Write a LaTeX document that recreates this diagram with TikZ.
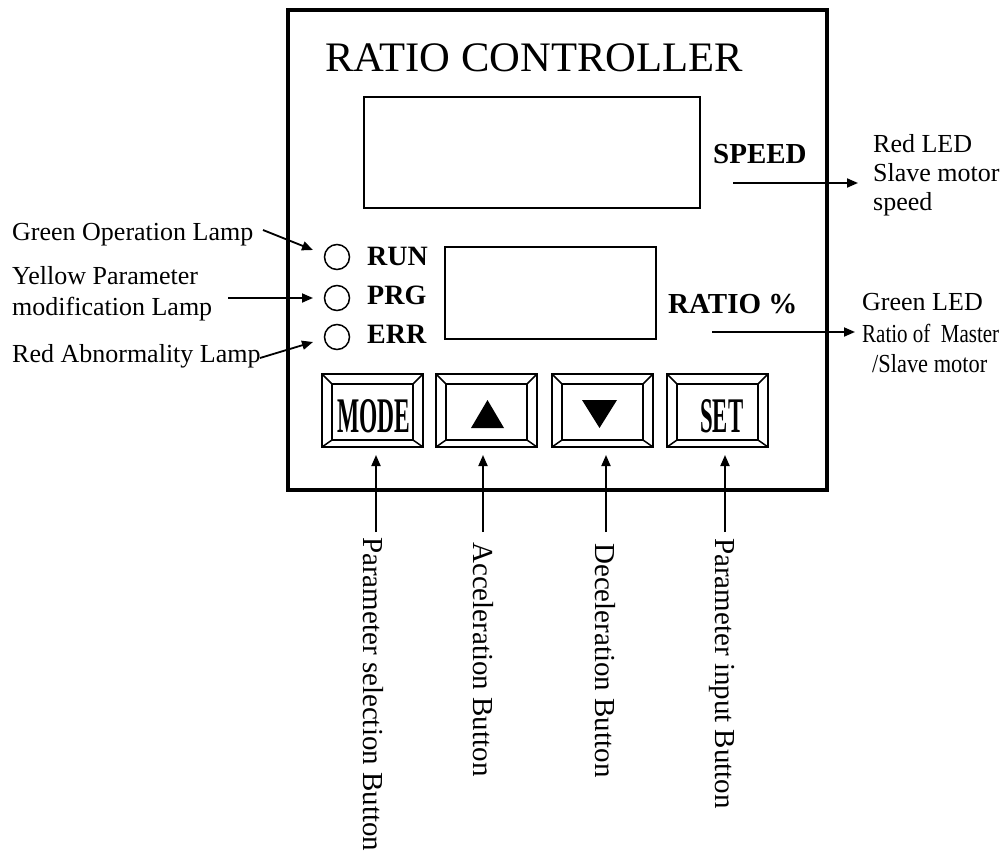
\documentclass[tikz,border=0pt]{standalone}
\usepackage{fontspec}
\setmainfont{Liberation Serif}
\usetikzlibrary{arrows.meta}
\begin{document}
\begin{tikzpicture}[x=1pt,y=-1pt,
  lbl/.style={inner sep=0pt, anchor=base west, font=\fontsize{26}{28}\selectfont},
  vlbl/.style={inner sep=0pt, anchor=base west, rotate=-90, font=\fontsize{29}{31}\selectfont},
  boldlbl/.style={inner sep=0pt, anchor=base west, font=\fontsize{29}{31}\selectfont\bfseries},
  arr/.style={line width=1.8pt, -{Triangle[length=11pt,width=9pt]}},
  lamp/.style={circle, draw, line width=1.5pt, minimum size=25pt, inner sep=0pt},
  disp/.style={draw, line width=2pt},
  btn/.style={line width=1.5pt},
]
\useasboundingbox (0,0) rectangle (1006,856);
% panel
\draw[line width=3.5pt] (288,10) rectangle (827,490);
\node[inner sep=0pt, anchor=base west] (title) at (325,72)
  {\resizebox{418pt}{\height}{\fontsize{42}{44}\selectfont RATIO CONTROLLER}};
% displays
\draw[disp] (364,97) rectangle (700,208);
\draw[disp] (445,247) rectangle (656,339);
\node[boldlbl] (speed) at (713,163) {SPEED};
\node[boldlbl] (ratio) at (668,313) {RATIO \%};
% lamps
\node[lamp] (run) at (337,257) {};
\node[lamp] (prg) at (337,298) {};
\node[lamp] (err) at (337,337) {};
\node[boldlbl, font=\fontsize{28}{30}\selectfont\bfseries] (runt) at (367,265) {RUN};
\node[boldlbl, font=\fontsize{28}{30}\selectfont\bfseries] (prgt) at (367,304) {PRG};
\node[boldlbl, font=\fontsize{28}{30}\selectfont\bfseries] (errt) at (367,343) {ERR};
% buttons
\foreach \L in {322,436,552,667} {
  \draw[btn] (\L,374) rectangle (\L+101,447);
  \draw[btn] (\L+10,384) rectangle (\L+91,440);
  \draw[btn] (\L,374) -- (\L+10,384);
  \draw[btn] (\L+101,374) -- (\L+91,384);
  \draw[btn] (\L,447) -- (\L+10,440);
  \draw[btn] (\L+101,447) -- (\L+91,440);
}
\node[inner sep=0pt, anchor=base west] (mode) at (337,432)
  {\resizebox{73pt}{33pt}{\bfseries MODE}};
\node[inner sep=0pt, anchor=base west] (set) at (700,432)
  {\resizebox{43pt}{33pt}{\bfseries SET}};
\fill (471,428) -- (487.5,400) -- (504,428) -- cycle;
\fill (582,400) -- (617,400) -- (599.5,428) -- cycle;
% left labels
\node[lbl] (gl) at (12,240) {Green Operation Lamp};
\node[lbl] (yl1) at (12,284) {Yellow Parameter};
\node[lbl] (yl2) at (12,315) {modification Lamp};
\node[lbl] (rl) at (12,362) {Red Abnormality Lamp};
\coordinate (gs) at (263,230); \coordinate (ge) at (313,250);
\coordinate (ys) at (228,298); \coordinate (ye) at (313,298);
\coordinate (rs) at (260,358); \coordinate (re) at (313,342);
\draw[arr] (gs) -- (ge);
\draw[arr] (ys) -- (ye);
\draw[arr] (rs) -- (re);
% right labels
\node[lbl] (r1) at (873,152) {Red LED};
\node[lbl] (r2) at (873,181) {Slave motor};
\node[lbl] (r3) at (873,210) {speed};
\node[lbl] (g1) at (862,310) {Green LED};
\node[lbl] (g2) at (862,342) {\resizebox{137pt}{\height}{Ratio of\ \ Master}};
\node[lbl] (g3) at (872,372) {\resizebox{115pt}{\height}{/Slave motor}};
\coordinate (ss) at (733,183); \coordinate (se) at (858,183);
\coordinate (ras) at (712,332); \coordinate (rae) at (855,332);
\draw[arr] (ss) -- (se);
\draw[arr] (ras) -- (rae);
% button labels
\node[vlbl] (b1) at (363,537) {Parameter selection Button};
\node[vlbl] (b2) at (473,542) {Acceleration Button};
\node[vlbl] (b3) at (595,543) {Deceleration Button};
\node[vlbl] (b4) at (715,538) {Parameter input Button};
\foreach \X/\n in {376/1,483/2,606/3,725/4} {
  \coordinate (bs\n) at (\X,532);
  \coordinate (be\n) at (\X,455);
  \draw[arr] (bs\n) -- (be\n);
}
\end{tikzpicture}
\end{document}
